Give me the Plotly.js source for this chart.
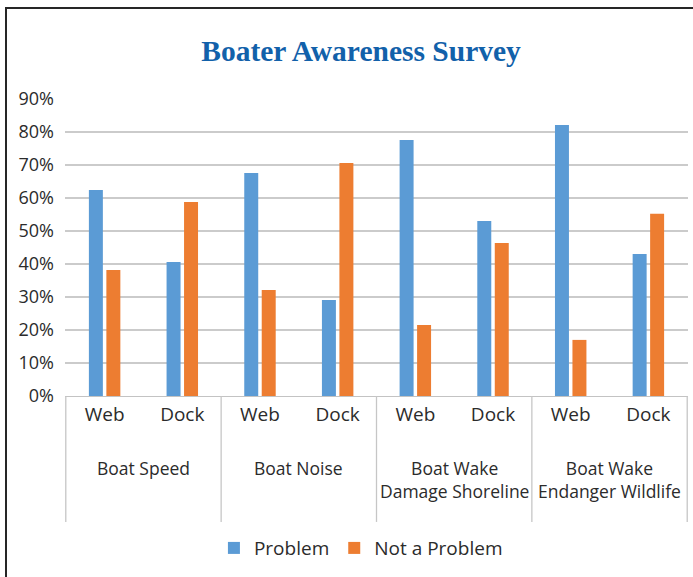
<!DOCTYPE html>
<html>
<head>
<meta charset="utf-8">
<script src="https://cdn.plot.ly/plotly-3.0.1.min.js"></script>
<style>
  html, body { margin: 0; padding: 0; background: #fff; }
  #wrap { position: relative; width: 693px; height: 577px; overflow: hidden; }
  #chart { position: absolute; left: 0; top: 0; width: 693px; height: 577px; }
  #frame { position: absolute; left: 5px; top: 7px; width: 700px; height: 600px;
           border-left: 2px solid #262626; border-top: 2px solid #262626; pointer-events: none; }
</style>
</head>
<body>
<div id="wrap"><div id="chart"></div><div id="frame"></div></div>
<script>
// ---- data ----
var groupLabels = ["Boat Speed", "Boat Noise", "Boat Wake<br>Damage Shoreline", "Boat Wake<br>Endanger Wildlife"];
var subLabels = ["Web", "Dock"];
var problem    = [62.4, 40.6, 67.6, 29.1, 77.6, 53.0, 82.1, 43.0];
var notProblem = [38.2, 58.8, 32.1, 70.6, 21.5, 46.4, 17.0, 55.2];
var seriesNames = ["Problem", "Not a Problem"];
var yTicks = [0, 10, 20, 30, 40, 50, 60, 70, 80, 90];
var yTickLabels = ["0%", "10%", "20%", "30%", "40%", "50%", "60%", "70%", "80%", "90%"];

// category keys (one per bar pair) and their tick texts
var keys = [], tickText = [];
groupLabels.forEach(function (g, gi) {
  subLabels.forEach(function (s) { keys.push(gi + "|" + s); tickText.push(s); });
});

var font = "'Open Sans', 'Noto Sans', sans-serif";
var textColor = "#2b2b2b";

var traces = [
  { type: "bar", name: seriesNames[0], x: keys, y: problem, marker: { color: "#5B9BD5" } },
  { type: "bar", name: seriesNames[1], x: keys, y: notProblem, marker: { color: "#ED7D31" } }
];

var nSub = subLabels.length;
var annotations = groupLabels.map(function (g, gi) {
  return {
    xref: "x", yref: "paper", x: gi * nSub + (nSub - 1) / 2, y: 0,
    yanchor: "top", xanchor: "center", yshift: -58,
    text: g, showarrow: false, align: "center",
    font: { family: font, size: 17.5, color: textColor }
  };
});

var shapes = [];
for (var i = 0; i <= groupLabels.length; i++) {
  var xv = i * nSub - 0.5;
  shapes.push({
    type: "line", xref: "x", yref: "paper", x0: xv, x1: xv, y0: 0, y1: -0.424,
    line: { color: "#c6c6c6", width: 1.3 }, layer: "above"
  });
}

var layout = {
  width: 693, height: 577,
  margin: { l: 65, r: 5, t: 99, b: 181, pad: 0 },
  paper_bgcolor: "#ffffff", plot_bgcolor: "#ffffff",
  title: {
    text: "<b>Boater Awareness Survey</b>",
    font: { family: "'Liberation Serif', 'DejaVu Serif', serif", size: 29.5, color: "#1261aa" },
    xref: "container", x: 0.521, xanchor: "center",
    yref: "container", y: 1 - 51 / 577, yanchor: "middle"
  },
  barmode: "group", bargap: 0.55, bargroupgap: 0.2,
  xaxis: {
    type: "category", categoryorder: "array", categoryarray: keys,
    tickvals: keys, ticktext: tickText, range: [-0.51, keys.length - 0.49],
    showline: true, linecolor: "#c3c3c3", linewidth: 1.3, ticks: "",
    showgrid: false, zeroline: false, ticklabelstandoff: 1,
    tickfont: { family: font, size: 19, color: textColor }
  },
  yaxis: {
    range: [0, 90], tickvals: yTicks, ticktext: yTickLabels,
    showgrid: true, gridcolor: "#cbcbcb", gridwidth: 1.3, zeroline: false,
    showline: false, ticks: "", ticklabelstandoff: 10,
    tickfont: { family: font, size: 18, color: textColor }
  },
  legend: {
    orientation: "h", xref: "paper", x: 0.475, xanchor: "center",
    y: -0.512, yanchor: "middle", traceorder: "normal",
    font: { family: font, size: 19, color: textColor },
    itemwidth: 30
  },
  annotations: annotations,
  shapes: shapes,
  showlegend: true
};

Plotly.newPlot("chart", traces, layout, { displayModeBar: false, staticPlot: true });
</script>
</body>
</html>
